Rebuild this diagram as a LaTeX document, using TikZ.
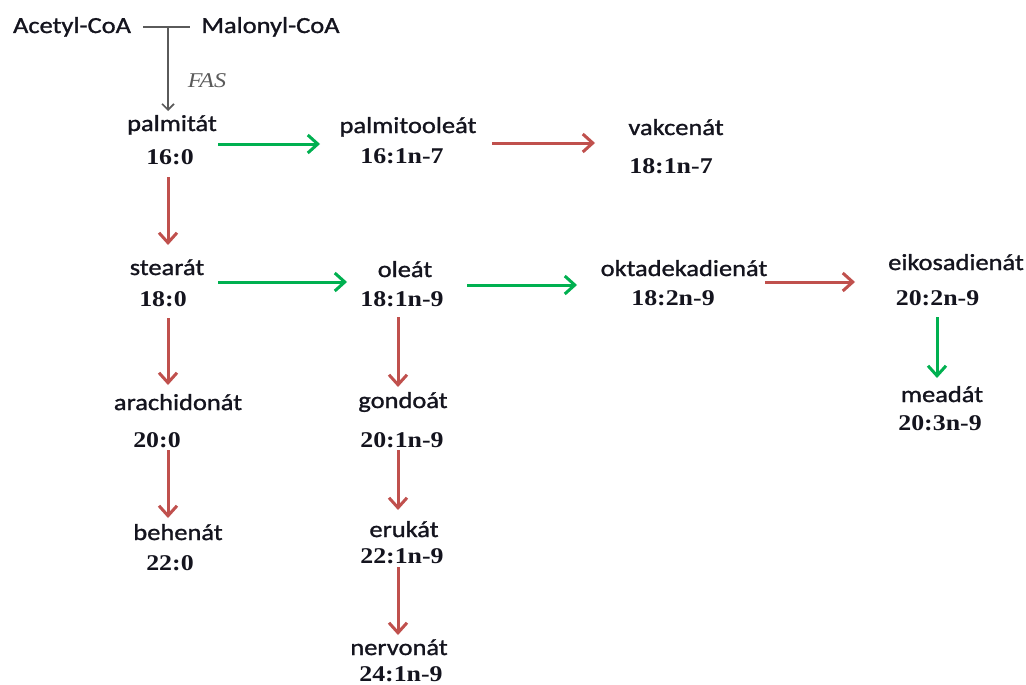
\documentclass[tikz,border=0pt]{standalone}
\usepackage{fontspec}
\usetikzlibrary{arrows.meta,calc}
\newfontfamily\nmfont{Carlito}[FakeStretch=1.15,FakeBold=1.2]
\newfontfamily\numfont{Liberation Serif}[FakeStretch=1.15]
\definecolor{redc}{RGB}{192,80,77}
\definecolor{greenc}{RGB}{0,176,80}
\definecolor{grayc}{RGB}{90,90,90}
\definecolor{txt}{RGB}{20,20,30}
\tikzset{
  nm/.style={font=\nmfont\fontsize{23}{23}\selectfont, inner sep=0pt, anchor=base, text=txt},
  num/.style={font=\numfont\bfseries\fontsize{22.5}{22.5}\selectfont, inner sep=0pt, anchor=base, text=txt},
  fasl/.style={font=\numfont\itshape\fontsize{21}{21}\selectfont, inner sep=0pt, anchor=base, text=grayc},
  rarr/.style={draw=redc, line width=3pt, -{Straight Barb[length=10pt,width=18pt]}},
  garr/.style={draw=greenc, line width=3pt, -{Straight Barb[length=10pt,width=18pt]}},
  gline/.style={draw=grayc, line width=1.6pt},
  gyarr/.style={draw=grayc, line width=1.6pt, -{Straight Barb[length=6pt,width=12pt]}}
}
\begin{document}
\begin{tikzpicture}[x=1pt,y=-1pt]
\useasboundingbox[fill=white] (0,0) rectangle (1026,685);
% nodes
\node[nm] (nAc) at (72,33) {Acetyl-CoA};
\node[nm] (nMa) at (270.5,33) {Malonyl-CoA};
\node[fasl] (fas) at (207,88) {FAS};
\node[nm] (n16) at (172,131) {palmitát};
\node[num] (c16) at (170,164) {16:0};
\node[nm] (n161) at (408,133) {palmitooleát};
\node[num] (c161) at (402,163) {16:1n-7};
\node[nm] (n181a) at (676,135) {vakcenát};
\node[num] (c181a) at (671,173) {18:1n-7};
\node[nm] (n18) at (167,275) {stearát};
\node[num] (c18) at (163,306) {18:0};
\node[nm] (n181) at (405,277) {oleát};
\node[num] (c181) at (402,306) {18:1n-9};
\node[nm] (n182) at (684,276) {oktadekadienát};
\node[num] (c182) at (673,305) {18:2n-9};
\node[nm] (n202) at (956,270) {eikosadienát};
\node[num] (c202) at (937.5,305) {20:2n-9};
\node[nm] (n203) at (942,402) {meadát};
\node[num] (c203) at (940,430) {20:3n-9};
\node[nm] (n20) at (178,410) {arachidonát};
\node[num] (c20) at (157,447) {20:0};
\node[nm] (n22) at (178,540) {behenát};
\node[num] (c22) at (170,570) {22:0};
\node[nm] (n201) at (403,408) {gondoát};
\node[num] (c201) at (402,447) {20:1n-9};
\node[nm] (n221) at (404,537) {erukát};
\node[num] (c221) at (402,563) {22:1n-9};
\node[nm] (n241) at (399,655) {nervonát};
\node[num] (c241) at (401,681) {24:1n-9};
% FAS connector
\coordinate (j) at ($(nAc.base)+(96,-6)$);
\draw[gline] ($(nAc.base)+(71,-6)$) -- ($(nMa.base)+(-80.5,-6)$);
\draw[gyarr] (j) -- ($(n16.base)+(-4,-20)$);
% horizontal arrows
\draw[garr] ($(c16.base)+(48,-20)$) -- ($(c161.base)+(-82,-19)$);
\draw[rarr] ($(c161.base)+(90,-20)$) -- ($(c181a.base)+(-76,-30)$);
\draw[garr] ($(n18.base)+(51,7)$) -- ($(n181.base)+(-58,5)$);
\draw[garr] ($(n181.base)+(62,8)$) -- ($(n182.base)+(-107,9)$);
\draw[rarr] ($(n182.base)+(81,6)$) -- ($(n202.base)+(-101,12)$);
% vertical arrows
\draw[rarr] ($(c16.base)+(-2,13)$) -- ($(n18.base)+(1,-30)$);
\draw[rarr] ($(c18.base)+(5,12)$) -- ($(n20.base)+(-10,-25)$);
\draw[rarr] ($(c20.base)+(11,3)$) -- ($(n22.base)+(-10,-22)$);
\draw[rarr] ($(c181.base)+(-4,11)$) -- ($(n201.base)+(-5,-21)$);
\draw[rarr] ($(c201.base)+(-4,3)$) -- ($(n221.base)+(-6,-27)$);
\draw[rarr] ($(c221.base)+(-4,4)$) -- ($(n241.base)+(-1,-20)$);
\draw[garr] ($(c202.base)+(-0.5,12)$) -- ($(n203.base)+(-5,-24)$);
\end{tikzpicture}
\end{document}
